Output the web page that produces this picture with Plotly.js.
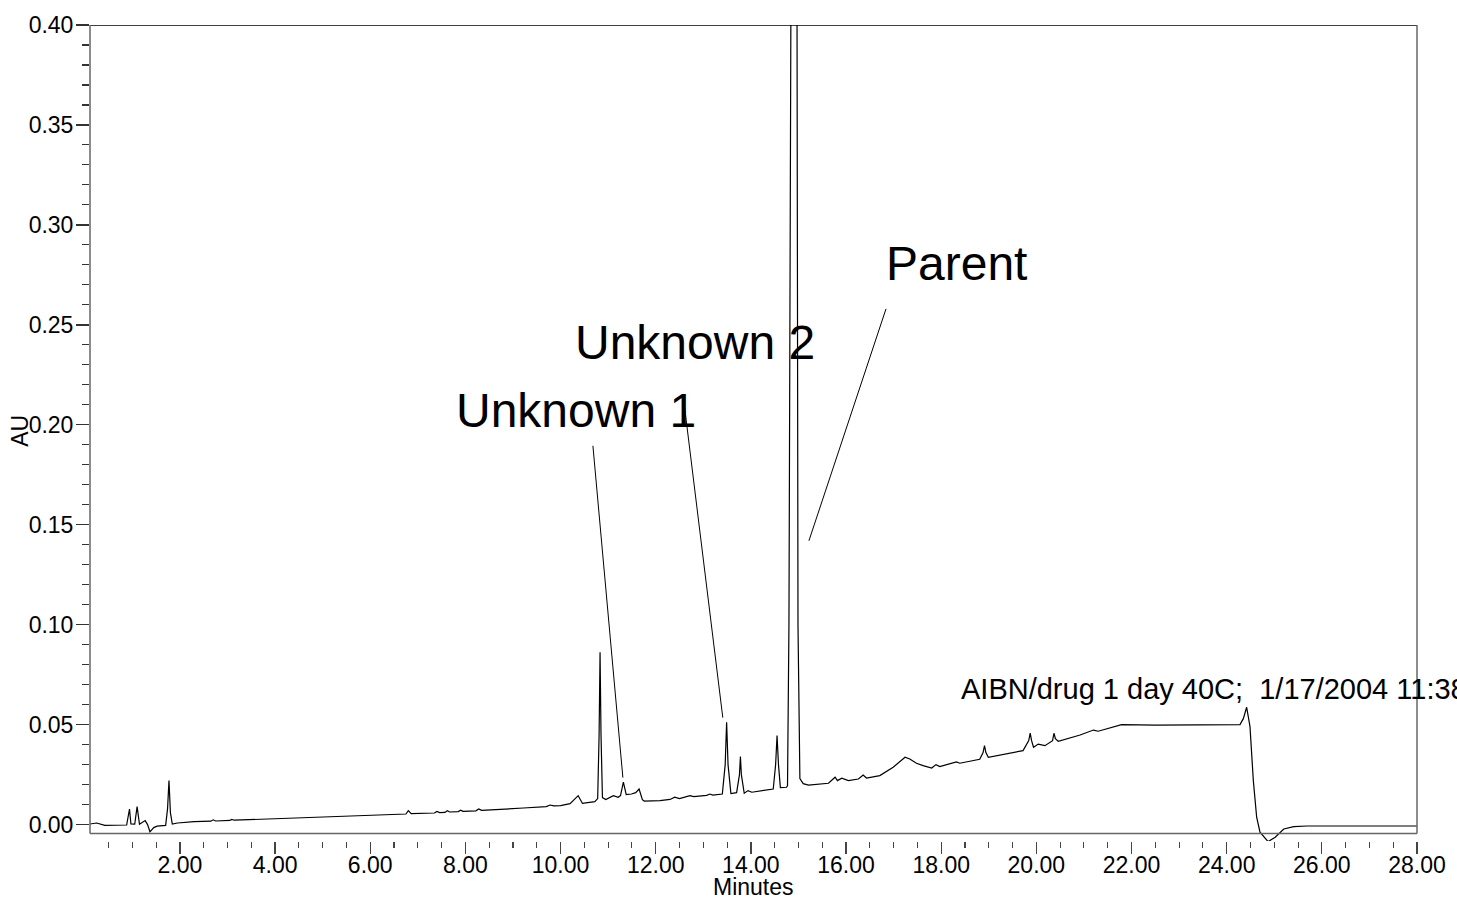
<!DOCTYPE html>
<html>
<head>
<meta charset="utf-8">
<script src="https://cdn.plot.ly/plotly-3.0.1.min.js"></script>
<style>
  html, body { margin: 0; padding: 0; background: #fff; }
  #chart { width: 1457px; height: 901px; }
</style>
</head>
<body>
<div id="chart"></div>
<script>
// Retention time (minutes)
const timeMin = [
  0.11, 0.25, 0.42, 0.60, 0.88, 0.94, 0.97, 1.05, 1.10, 1.15,
  1.20, 1.27, 1.32, 1.37, 1.45, 1.52, 1.70, 1.74, 1.77, 1.80, 1.84, 1.95,
  2.30, 2.65, 2.70, 2.75, 3.05, 3.09, 3.14, 4.00, 5.01, 5.85,
  6.75, 6.80, 6.86, 7.35, 7.40, 7.46, 7.57, 7.62, 7.67, 7.85, 7.90, 7.95,
  8.22, 8.28, 8.34, 9.22, 9.70, 9.78, 9.86, 10.00, 10.20, 10.37, 10.46,
  10.72, 10.78, 10.81, 10.83, 10.85, 10.88, 10.95, 11.11, 11.21, 11.26, 11.32, 11.38,
  11.49, 11.58, 11.65, 11.72, 11.76, 12.09, 12.30, 12.40, 12.50, 12.72, 12.80,
  13.07, 13.14, 13.20, 13.40, 13.46, 13.49, 13.52, 13.58, 13.70, 13.76, 13.78, 13.80, 13.86,
  13.94, 14.02, 14.47, 14.52, 14.55, 14.58, 14.62, 14.75,
  14.77, 14.80, 14.84, 14.905, 14.97, 14.99, 15.03, 15.10,
  15.21, 15.63, 15.77, 15.82, 15.91, 16.05, 16.26, 16.36, 16.43, 16.71,
  16.99, 17.24, 17.34, 17.48, 17.62, 17.80, 17.89, 17.97, 18.32, 18.39,
  18.81, 18.88, 18.91, 18.94, 18.99, 19.72, 19.84, 19.87, 19.90, 19.94, 20.04, 20.18,
  20.34, 20.37, 20.40, 20.46, 20.92, 21.20, 21.30, 21.79, 22.50, 23.50,
  24.28, 24.35, 24.42, 24.49, 24.56, 24.63, 24.70, 24.87, 25.02, 25.20,
  25.41, 25.69, 28.00
];
// Absorbance (AU)
const absorbance = [
  0.0003, 0.0008, -0.0004, -0.0003, -0.0002, 0.0078, 0.0003, 0.0002, 0.0090, 0.0002,
  0.0008, 0.0020, 0.0000, -0.0036, -0.0015, -0.0008, -0.0004, 0.0080, 0.0220, 0.0060, 0.0003, 0.0008,
  0.0015, 0.0017, 0.0024, 0.0018, 0.0021, 0.0026, 0.0022, 0.0030, 0.0037, 0.0048,
  0.0053, 0.0070, 0.0055, 0.0058, 0.0066, 0.0060, 0.0061, 0.0069, 0.0063, 0.0065, 0.0072, 0.0066,
  0.0069, 0.0078, 0.0071, 0.0083, 0.0090, 0.0098, 0.0094, 0.0095, 0.0105, 0.0145, 0.0106,
  0.0115, 0.0130, 0.0450, 0.0862, 0.0450, 0.0135, 0.0125, 0.0145, 0.0137, 0.0145, 0.0212, 0.0150,
  0.0153, 0.0160, 0.0178, 0.0125, 0.0118, 0.0120, 0.0126, 0.0137, 0.0130, 0.0145, 0.0140,
  0.0146, 0.0153, 0.0148, 0.0153, 0.0300, 0.0512, 0.0300, 0.0155, 0.0160, 0.0250, 0.0340, 0.0250, 0.0157,
  0.0170, 0.0162, 0.0178, 0.0300, 0.0445, 0.0300, 0.0185, 0.0187,
  0.0195, 0.1000, 0.4000, 1.0500, 0.4000, 0.1000, 0.0230, 0.0205,
  0.0198, 0.0207, 0.0237, 0.0220, 0.0232, 0.0220, 0.0228, 0.0248, 0.0233, 0.0245,
  0.0287, 0.0337, 0.0328, 0.0307, 0.0295, 0.0283, 0.0300, 0.0290, 0.0314, 0.0307,
  0.0327, 0.0360, 0.0395, 0.0360, 0.0337, 0.0370, 0.0420, 0.0458, 0.0420, 0.0387, 0.0403, 0.0395,
  0.0420, 0.0457, 0.0430, 0.0417, 0.0448, 0.0473, 0.0467, 0.0500, 0.0498, 0.0499,
  0.0500, 0.0530, 0.0587, 0.0490, 0.0220, 0.0037, -0.0038, -0.0085, -0.0063, -0.0022,
  -0.0010, -0.0007, -0.0007
];

const peakLabels = ["Unknown 1", "Unknown 2", "Parent"];
const labelX = [10.33, 12.82, 18.33];
const labelY = [0.207, 0.241, 0.2805];
// pointer lines: [x0, y0, x1, y1]
const pointerX0 = [10.68, 12.59, 16.84];
const pointerY0 = [0.1895, 0.212, 0.258];
const pointerX1 = [11.31, 13.41, 15.22];
const pointerY1 = [0.0235, 0.0535, 0.142];

const sampleText = "AIBN/drug 1 day 40C;\u00a0 1/17/2004 11:38";

const FONT = "Liberation Sans, Arial, sans-serif";

const trace = {
  x: timeMin,
  y: absorbance,
  type: "scatter",
  mode: "lines",
  line: { color: "#000", width: 1.2 },
  hoverinfo: "x+y"
};

const annotations = peakLabels.map((t, i) => ({
  text: t, x: labelX[i], y: labelY[i], xref: "x", yref: "y",
  showarrow: false, xanchor: "center", yanchor: "middle",
  font: { family: FONT, size: 48, color: "#000" }
}));
annotations.push({
  text: sampleText, x: 18.38, y: 0.0678, xref: "x", yref: "y",
  showarrow: false, xanchor: "left", yanchor: "middle",
  font: { family: FONT, size: 29, color: "#000" }
});
annotations.push({
  text: "Minutes", x: 0.5, y: -0.0742, xref: "paper", yref: "paper",
  showarrow: false, xanchor: "center", yanchor: "bottom",
  font: { family: FONT, size: 23, color: "#000" }
});
annotations.push({
  text: "AU", x: -0.0527, y: 0.5027, xref: "paper", yref: "paper",
  showarrow: false, xanchor: "center", yanchor: "middle", textangle: -90,
  font: { family: FONT, size: 23, color: "#000" }
});

const shapes = pointerX0.map((x0, i) => ({
  type: "line", xref: "x", yref: "y",
  x0: x0, y0: pointerY0[i], x1: pointerX1[i], y1: pointerY1[i],
  line: { color: "#000", width: 1 }
}));
// plot frame
shapes.push({ type: "line", xref: "paper", yref: "y", x0: 0, x1: 1, y0: 0.40, y1: 0.40, line: { color: "#000", width: 1.5 } });
shapes.push({ type: "line", xref: "paper", yref: "y", x0: 0, x1: 0, y0: -0.0045, y1: 0.40, line: { color: "#666", width: 1.5 } });
shapes.push({ type: "line", xref: "paper", yref: "y", x0: 1, x1: 1, y0: -0.0045, y1: 0.40, line: { color: "#666", width: 1.5 } });
shapes.push({ type: "line", xref: "paper", yref: "y", x0: 0, x1: 1, y0: -0.0045, y1: -0.0045, line: { color: "#666", width: 1.5 } });

const layout = {
  width: 1457, height: 901,
  margin: { l: 90, r: 40, t: 25, b: 59.6, pad: 0 },
  paper_bgcolor: "#fff", plot_bgcolor: "#fff",
  showlegend: false,
  xaxis: {
    range: [0.11, 28.0],
    tick0: 0, dtick: 2, tickformat: ".2f",
    ticks: "outside", ticklen: 12, tickwidth: 1.3, tickcolor: "#444",
    minor: { dtick: 0.5, ticks: "outside", ticklen: 6, tickwidth: 1.1, tickcolor: "#444" },
    ticklabelstandoff: -9,
    showgrid: false, zeroline: false, showline: false,
    tickfont: { family: FONT, size: 23, color: "#000" }
  },
  yaxis: {
    range: [-0.0082, 0.40],
    tick0: 0, dtick: 0.05, tickformat: ".2f",
    ticks: "outside", ticklen: 13, tickwidth: 1.3, tickcolor: "#333",
    minor: { dtick: 0.01, ticks: "outside", ticklen: 7, tickwidth: 1.1, tickcolor: "#333" },
    ticklabelstandoff: -2,
    showgrid: false, zeroline: false, showline: false,
    tickfont: { family: FONT, size: 23, color: "#000" }
  },
  annotations: annotations,
  shapes: shapes
};

Plotly.newPlot("chart", [trace], layout, { displayModeBar: false, staticPlot: true });
</script>
</body>
</html>
